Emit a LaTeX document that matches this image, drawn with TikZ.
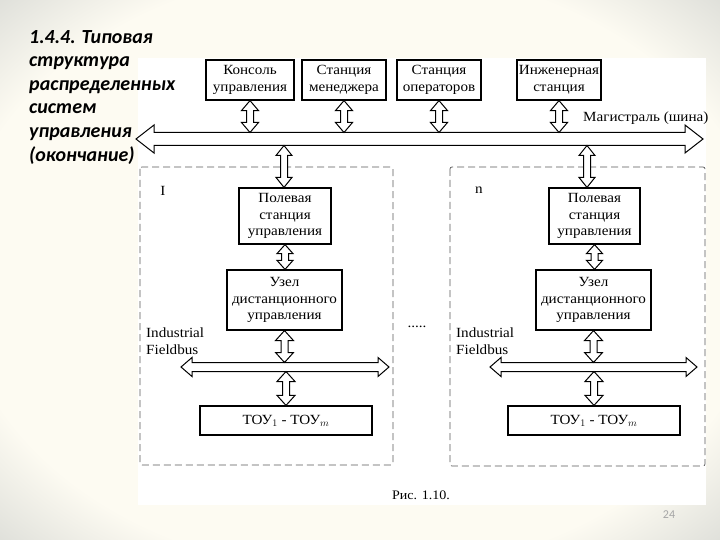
\documentclass[tikz,border=0pt]{standalone}
\usepackage{fontspec}
\setmainfont{Liberation Serif}
\newfontfamily\titlefont{Carlito}
\newfontfamily\figfont[FakeStretch=1.08]{Liberation Serif}
\usetikzlibrary{calc}

\definecolor{slide}{RGB}{253,251,242}
\definecolor{edge}{RGB}{118,128,134}
\pgfdeclareradialshading{vign}{\pgfpoint{0bp}{0bp}}{color(0bp)=(slide); color(28bp)=(slide); color(45bp)=(edge!50!slide); color(68bp)=(edge)}

% hollow double arrow between two points: ends, half shaft, half head, head length
\newcommand\blockarr[5]{%
  \draw[arr] let \p1=(#1), \p2=(#2), \n1={atan2(\y2-\y1,\x2-\x1)}, \n2={veclen(\x2-\x1,\y2-\y1)} in
    [shift={(\p1)}, rotate=\n1]
    (0pt,0pt) -- (#5 pt,#4 pt) -- (#5 pt,#3 pt) -- ({\n2-#5 pt},#3 pt) -- ({\n2-#5 pt},#4 pt)
    -- (\n2,0pt) -- ({\n2-#5 pt},-#4 pt) -- ({\n2-#5 pt},-#3 pt) -- (#5 pt,-#3 pt)
    -- (#5 pt,-#4 pt) -- cycle;}

\begin{document}
\begin{tikzpicture}[x=1pt,y=-1pt,
    box/.style={draw, line width=1.2pt, fill=white, align=center, inner sep=0pt,
      font=\figfont\fontsize{14}{16.5}\selectfont},
    arr/.style={draw, line width=1pt, fill=white, line join=miter},
    region/.style={draw=black!65, dash pattern=on 7pt off 4pt, line width=0.7pt, rounded corners=2pt},
    lbl/.style={font=\figfont\fontsize{14}{16.5}\selectfont, inner sep=0pt}]
    \useasboundingbox (0,0) rectangle (720,540);
    \shade[shading=vign] (0,0) rectangle (720,540);
    \fill[white] (138,58) rectangle (706,505);

    % title
    \node[anchor=north west, align=left, inner sep=0pt, text=black,
      font=\titlefont\bfseries\itshape\fontsize{20}{23.6}\selectfont] (title) at (29,30)
      {1.4.4. Типовая\\структура\\распределенных\\систем\\управления\\(окончание)};

    % top stations
    \node[box, minimum width=88, minimum height=40] (kons) at (250,80) {Консоль\\управления};
    \node[box, minimum width=84, minimum height=40] (men) at (344,80) {Станция\\менеджера};
    \node[box, minimum width=84, minimum height=40] (oper) at (439,80) {Станция\\операторов};
    \node[box, minimum width=84, minimum height=40] (ing) at (559,80) {Инженерная\\станция};

    % two field groups
    \draw[region] (140,167) rectangle (393,465);
    \draw[region] (450,167) rectangle (705,466);
    \node[lbl] (g1) at (163,191) {I};
    \node[lbl] (g2) at (479,190) {n};

    \node[box, minimum width=92, minimum height=56] (pol1) at (285,216) {Полевая\\станция\\управления};
    \node[box, minimum width=115, minimum height=60] (uzel1) at (284.5,300) {Узел\\дистанционного\\управления};
    \node[box, minimum width=172, minimum height=29] (tou1) at (286,420.5) {ТОУ$_1$ - ТОУ$_m$};
    \node[box, minimum width=91, minimum height=56] (pol2) at (594.5,216) {Полевая\\станция\\управления};
    \node[box, minimum width=115, minimum height=60] (uzel2) at (593.5,300) {Узел\\дистанционного\\управления};
    \node[box, minimum width=172, minimum height=29] (tou2) at (594,420.5) {ТОУ$_1$ - ТОУ$_m$};

    \node[lbl, anchor=north west, align=left] (fb1) at (146,328) {Industrial\\Fieldbus};
    \node[lbl, anchor=north west, align=left] (fb2) at (456,328) {Industrial\\Fieldbus};
    \node[lbl] (dots) at (417,327) {.....};

    % buses
    \coordinate (busL) at (136,139);
    \coordinate (busR) at (703,139);
    \coordinate (bustop) at (0,132.5);
    \coordinate (busbot) at (0,145.5);
    \blockarr{busL}{busR}{6.5}{14}{18}
    \node[lbl, anchor=south west] (mag) at (583,125) {Магистраль (шина)};

    \coordinate (fbL1) at (181,367);
    \coordinate (fbR1) at (389,367);
    \coordinate (fbL2) at (490,367);
    \coordinate (fbR2) at (697,367);
    \coordinate (fbtop) at (0,362.5);
    \coordinate (fbbot) at (0,371.5);
    \blockarr{fbL1}{fbR1}{4.5}{9.5}{11}
    \blockarr{fbL2}{fbR2}{4.5}{9.5}{11}

    % links
    \blockarr{kons.south}{kons.south |- bustop}{3.5}{8.5}{10}
    \blockarr{men.south}{men.south |- bustop}{3.5}{8.5}{10}
    \blockarr{oper.south}{oper.south |- bustop}{3.5}{8.5}{10}
    \blockarr{ing.south}{ing.south |- bustop}{3.5}{8.5}{10}
    \coordinate (d1) at (284,0);
    \coordinate (d2) at (587,0);
    \blockarr{d1 |- busbot}{d1 |- pol1.north}{3.5}{8}{10}
    \blockarr{d2 |- busbot}{d2 |- pol2.north}{3.5}{8}{10}
    \blockarr{pol1.south}{uzel1.north -| pol1.south}{3.5}{8}{9}
    \blockarr{pol2.south}{uzel2.north -| pol2.south}{3.5}{8}{9}
    \blockarr{uzel1.south}{uzel1.south |- fbtop}{3.5}{9}{10}
    \blockarr{uzel2.south}{uzel2.south |- fbtop}{3.5}{9}{10}
    \blockarr{tou1.north |- fbbot}{tou1.north}{3.5}{9}{10}
    \blockarr{tou2.north |- fbbot}{tou2.north}{3.5}{9}{10}

    \node[lbl, font=\figfont\fontsize{13}{15}\selectfont] (cap) at (421,495) {Рис. 1.10.};
    \node[inner sep=0pt, text=black!35, font=\titlefont\fontsize{12}{14}\selectfont] (page) at (669,515) {24};
\end{tikzpicture}
\end{document}
